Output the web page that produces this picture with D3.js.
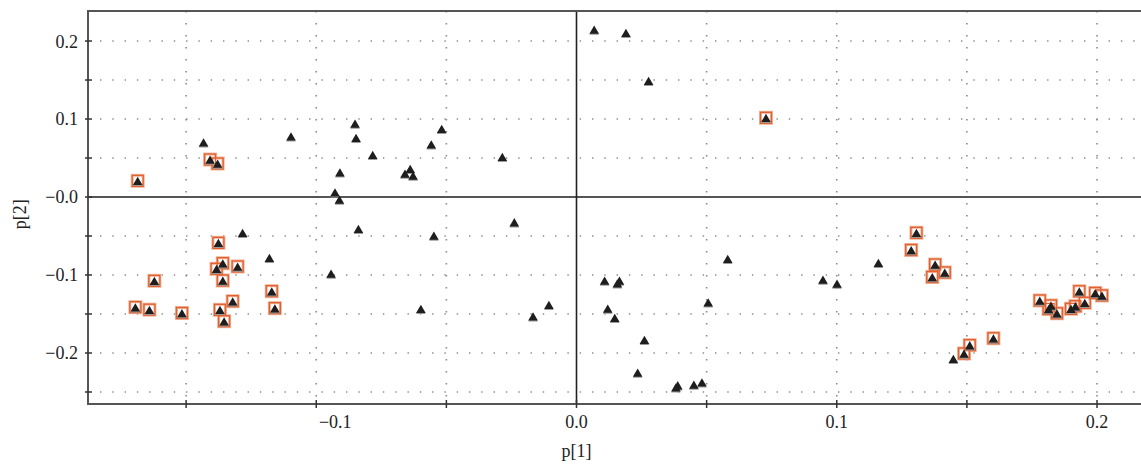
<!DOCTYPE html>
<meta charset="utf-8">
<script src="https://d3js.org/d3.v7.min.js"></script>
<style>
  body { margin: 0; background: #fff; }
  text { font-family: "Liberation Serif", "DejaVu Serif", serif; fill: #222; }
</style>
<div id="my_dataviz"></div>
<script>
    // scores p[1] / p[2]
    var plainP1 = [0.0068, 0.0190, 0.0277, -0.1433, -0.1097, -0.0851, -0.0847, -0.0783, -0.0518, -0.0558,
        -0.0285, -0.0909, -0.0639, -0.0659, -0.0628, -0.0928, -0.0911, -0.0838, -0.0548, -0.0239,
        -0.1283, -0.1180, -0.0943, -0.0598, -0.0106, -0.0167, 0.0581, 0.0108, 0.0165, 0.0157,
        0.0506, 0.0120, 0.0147, 0.0261, 0.0235, 0.0389, 0.0382, 0.0451, 0.0482, 0.0947,
        0.1001, 0.1160, 0.1448];
    var plainP2 = [0.2141, 0.2099, 0.1483, 0.0696, 0.0773, 0.0936, 0.0753, 0.0535, 0.0868, 0.0671,
        0.0509, 0.0312, 0.0355, 0.0295, 0.0269, 0.0055, -0.0038, -0.0414, -0.0500, -0.0329,
        -0.0465, -0.0786, -0.0987, -0.1440, -0.1388, -0.1535, -0.0799, -0.1077, -0.1077, -0.1112,
        -0.1355, -0.1436, -0.1555, -0.1837, -0.2256, -0.2419, -0.2445, -0.2410, -0.2381, -0.1064,
        -0.1115, -0.0850, -0.2081];

    // highlighted observations (boxed)
    var markedP1 = [0.0728, -0.1686, -0.1408, -0.1379, -0.1376, -0.1359, -0.1302, -0.1383, -0.1359, -0.1622,
        -0.1171, -0.1321, -0.1695, -0.1641, -0.1516, -0.1370, -0.1159, -0.1354, 0.1306, 0.1286,
        0.1378, 0.1415, 0.1367, 0.1602, 0.1511, 0.1489, 0.1780, 0.1814, 0.1823, 0.1846,
        0.1900, 0.1917, 0.1932, 0.1953, 0.1993, 0.2019];
    var markedP2 = [0.1009, 0.0201, 0.0474, 0.0423, -0.0594, -0.0855, -0.0897, -0.0927, -0.1077, -0.1081,
        -0.1214, -0.1342, -0.1419, -0.1451, -0.1494, -0.1453, -0.1432, -0.1599, -0.0465, -0.0686,
        -0.0872, -0.0974, -0.1032, -0.1817, -0.1906, -0.2013, -0.1333, -0.1442, -0.1397, -0.1497,
        -0.1440, -0.1406, -0.1215, -0.1363, -0.1237, -0.1269];

    var xTickValues = [-0.15, -0.1, -0.05, 0.0, 0.05, 0.1, 0.15, 0.2];
    var xTickLabels = ["", "\u22120.1", "", "0.0", "", "0.1", "", "0.2"];
    var yTickValues = [0.2, 0.15, 0.1, 0.05, 0.0, -0.05, -0.1, -0.15, -0.2, -0.25];
    var yTickLabels = ["0.2", "", "0.1", "", "\u22120.0", "", "\u22120.1", "", "\u22120.2", ""];

    var margin = {top: 11, right: 0, bottom: 62, left: 88},
        width = 1141 - margin.left - margin.right,
        height = 466 - margin.top - margin.bottom;

    var svg = d3.select("#my_dataviz")
        .append("svg")
        .attr("width", 1141)
        .attr("height", 466)
        .append("g")
        .attr("transform", "translate(" + margin.left + "," + margin.top + ")");

    var x = d3.scaleLinear().domain([-0.1877, 0.2169]).range([0, width]);
    var y = d3.scaleLinear().domain([-0.2654, 0.2385]).range([height, 0]);

    // dotted grid
    svg.selectAll(".hgrid")
        .data(yTickValues.filter(function(d) { return d !== 0; }))
        .enter().append("line")
        .attr("x1", 12).attr("x2", width)
        .attr("y1", function(d) { return y(d); })
        .attr("y2", function(d) { return y(d); })
        .attr("stroke", "#8a8a8a")
        .attr("stroke-width", 1.6)
        .attr("stroke-dasharray", "1.4,10.9");
    svg.selectAll(".vgrid")
        .data(xTickValues.filter(function(d) { return d !== 0; }))
        .enter().append("line")
        .attr("x1", function(d) { return x(d); })
        .attr("x2", function(d) { return x(d); })
        .attr("y1", 0).attr("y2", height)
        .attr("stroke", "#8a8a8a")
        .attr("stroke-width", 1.6)
        .attr("stroke-dasharray", "1.4,10.6");

    // zero lines
    svg.append("line")
        .attr("x1", 0).attr("x2", width)
        .attr("y1", y(0)).attr("y2", y(0))
        .attr("stroke", "#555").attr("stroke-width", 2);
    svg.append("line")
        .attr("x1", x(0)).attr("x2", x(0))
        .attr("y1", 0).attr("y2", height)
        .attr("stroke", "#222").attr("stroke-width", 1.6);

    // frame
    svg.append("rect")
        .attr("x", 0).attr("y", 0)
        .attr("width", width + 4).attr("height", height)
        .attr("fill", "none")
        .attr("stroke", "#555")
        .attr("stroke-width", 2);

    // ticks
    svg.selectAll(".ytick")
        .data(yTickValues)
        .enter().append("line")
        .attr("x1", -3).attr("x2", 4)
        .attr("y1", function(d) { return y(d); })
        .attr("y2", function(d) { return y(d); })
        .attr("stroke", "#333").attr("stroke-width", 1.5);
    svg.selectAll(".xtick")
        .data(xTickValues)
        .enter().append("line")
        .attr("x1", function(d) { return x(d); })
        .attr("x2", function(d) { return x(d); })
        .attr("y1", height - 4).attr("y2", height + 4)
        .attr("stroke", "#333").attr("stroke-width", 1.5);

    // tick labels
    svg.selectAll(".ylab")
        .data(yTickValues)
        .enter().append("text")
        .attr("x", -10)
        .attr("y", function(d) { return y(d); })
        .attr("dy", "0.36em")
        .attr("text-anchor", "end")
        .style("font-size", "18px")
        .text(function(d, i) { return yTickLabels[i]; });
    svg.selectAll(".xlab")
        .data(xTickValues)
        .enter().append("text")
        .attr("x", function(d) { return d < 0 ? x(d) + 19 : x(d); })
        .attr("y", height + 24)
        .attr("text-anchor", "middle")
        .style("font-size", "18px")
        .text(function(d, i) { return xTickLabels[i]; });

    // axis titles
    svg.append("text")
        .attr("x", x(0))
        .attr("y", height + 53)
        .attr("text-anchor", "middle")
        .style("font-size", "18px")
        .text("p[1]");
    svg.append("text")
        .attr("transform", "translate(" + (-62) + "," + (y(-0.022)) + ") rotate(-90)")
        .attr("text-anchor", "middle")
        .style("font-size", "18px")
        .text("p[2]");

    var marked = markedP1.map(function(d, i) { return [d, markedP2[i]]; });
    var plain = plainP1.map(function(d, i) { return [d, plainP2[i]]; });

    // boxes round the highlighted points
    svg.selectAll(".halo")
        .data(marked)
        .enter().append("rect")
        .attr("x", function(d) { return x(d[0]) - 5.5; })
        .attr("y", function(d) { return y(d[1]) - 6; })
        .attr("width", 11).attr("height", 11)
        .attr("fill", "#fff")
        .attr("stroke", "#f2b59c")
        .attr("stroke-width", 3);
    svg.selectAll(".box")
        .data(marked)
        .enter().append("rect")
        .attr("x", function(d) { return x(d[0]) - 5.5; })
        .attr("y", function(d) { return y(d[1]) - 6; })
        .attr("width", 11).attr("height", 11)
        .attr("fill", "none")
        .attr("stroke", "#e0602e")
        .attr("stroke-width", 1.3);

    var tri = d3.symbol().type(d3.symbolTriangle).size(40);
    var all = plain.concat(marked);

    // soft shadow under each triangle
    svg.selectAll(".shadow")
        .data(all)
        .enter().append("path")
        .attr("d", tri)
        .attr("transform", function(d) { return "translate(" + x(d[0]) + "," + (y(d[1]) + 2) + ")"; })
        .attr("fill", "#9a9a9a");
    svg.selectAll(".tri")
        .data(all)
        .enter().append("path")
        .attr("d", tri)
        .attr("transform", function(d) { return "translate(" + x(d[0]) + "," + (y(d[1]) + 1) + ")"; })
        .attr("fill", "#1e1e1e");
</script>
